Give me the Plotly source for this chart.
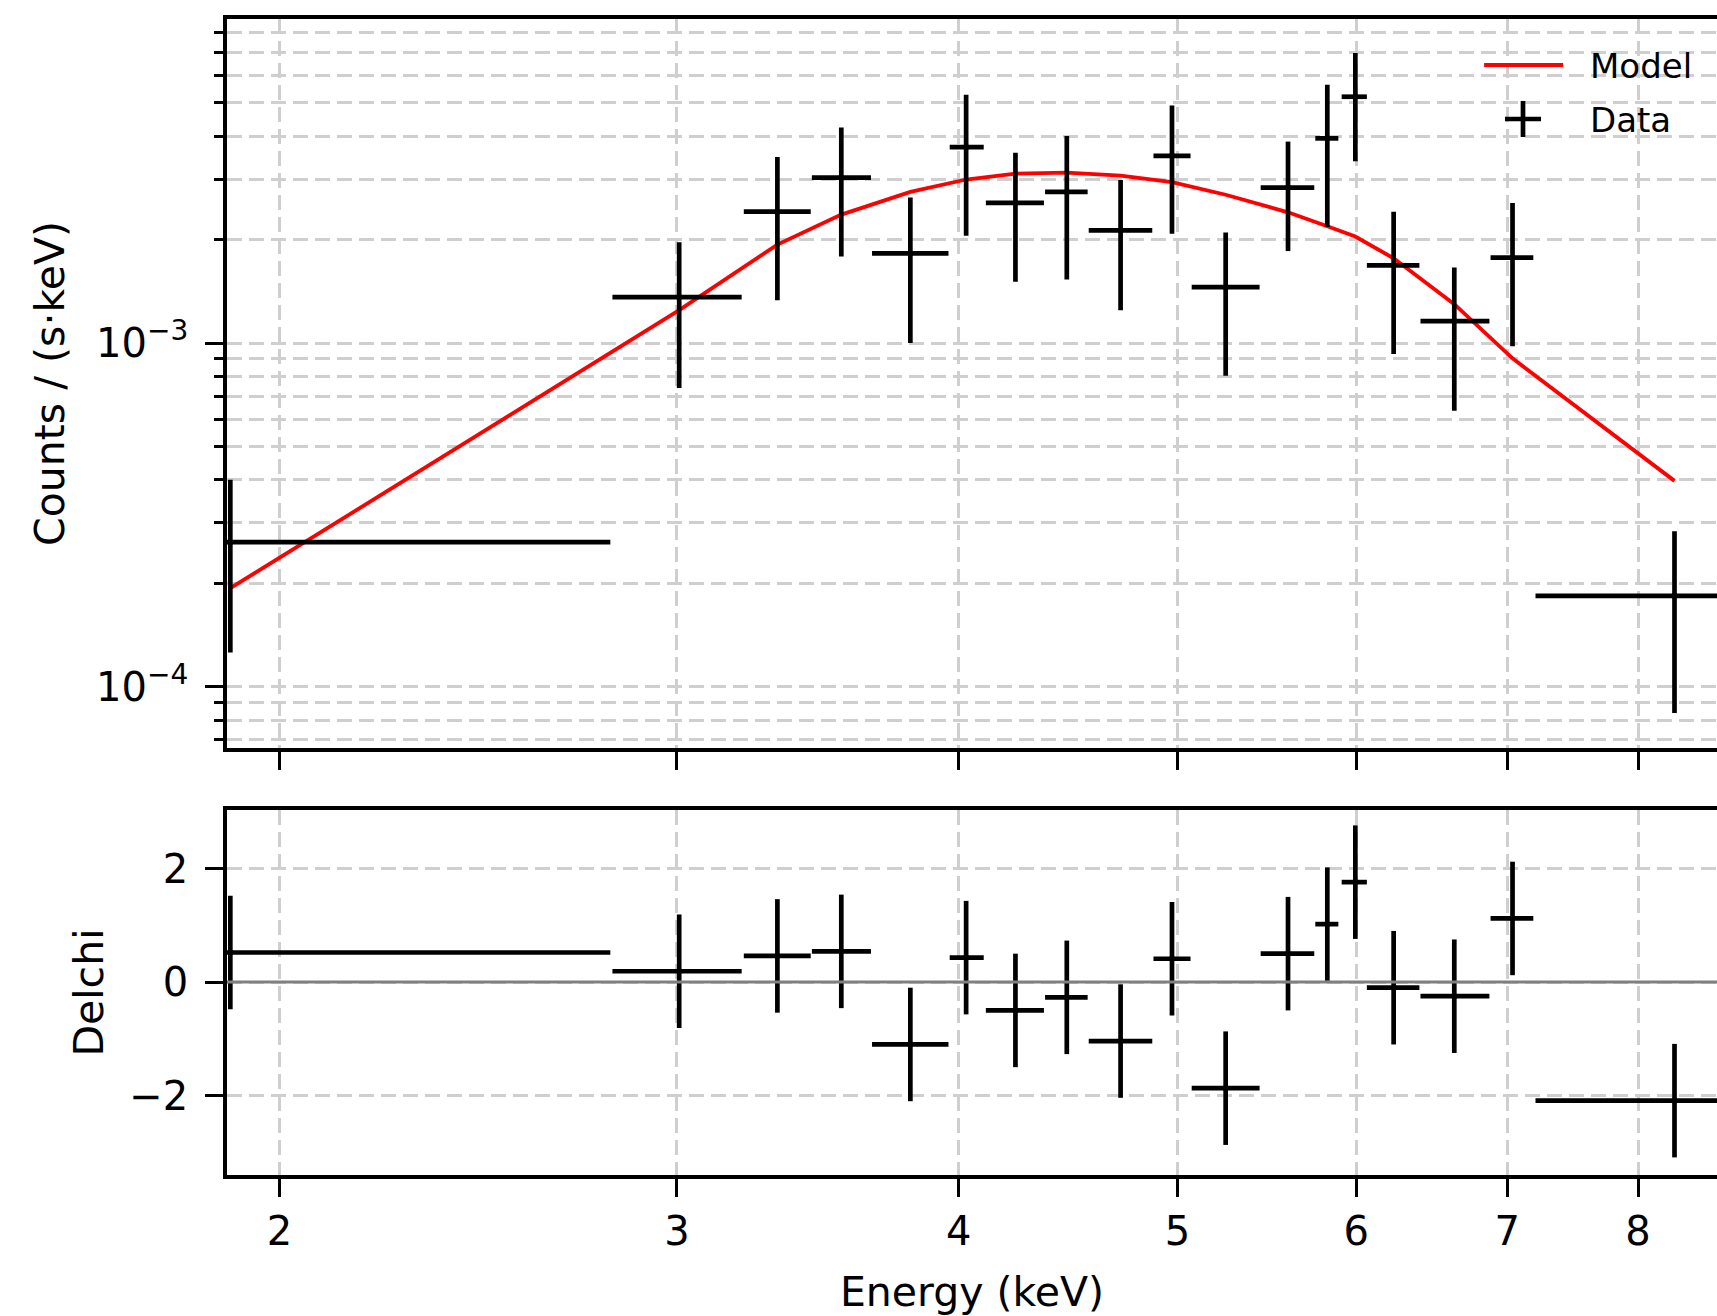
import plotly.graph_objects as go

# ---------------- data ----------------
energy = [1.902, 3.007, 3.324, 3.548, 3.807, 4.030, 4.238, 4.466, 4.718, 4.972,
          5.252, 5.597, 5.826, 5.995, 6.234, 6.632, 7.038, 8.303]
energy_lo = [1.001, 2.809, 3.212, 3.443, 3.661, 3.963, 4.112, 4.368, 4.567, 4.879,
             5.073, 5.443, 5.755, 5.912, 6.066, 6.407, 6.882, 7.205]
energy_hi = [2.803, 3.205, 3.439, 3.657, 3.958, 4.103, 4.363, 4.562, 4.873, 5.067,
             5.437, 5.749, 5.892, 6.066, 6.400, 6.874, 7.189, 9.400]

counts = [2.633e-4, 1.360e-3, 2.411e-3, 3.027e-3, 1.824e-3, 3.716e-3, 2.556e-3, 2.751e-3,
          2.128e-3, 3.504e-3, 1.454e-3, 2.833e-3, 3.939e-3, 5.206e-3, 1.683e-3, 1.158e-3,
          1.772e-3, 1.838e-4]
counts_hi = [3.998e-4, 1.963e-3, 3.478e-3, 4.240e-3, 2.652e-3, 5.280e-3, 3.580e-3, 4.000e-3,
             2.980e-3, 4.910e-3, 2.097e-3, 3.855e-3, 5.640e-3, 6.980e-3, 2.410e-3, 1.658e-3,
             2.556e-3, 2.833e-4]
counts_lo = [1.257e-4, 7.400e-4, 1.331e-3, 1.785e-3, 1.000e-3, 2.052e-3, 1.508e-3, 1.530e-3,
             1.246e-3, 2.080e-3, 8.030e-4, 1.851e-3, 2.176e-3, 3.378e-3, 9.290e-4, 6.350e-4,
             9.780e-4, 8.390e-5]

model = [1.934e-4, 1.246e-3, 1.934e-3, 2.364e-3, 2.751e-3, 2.990e-3, 3.110e-3, 3.130e-3,
         3.070e-3, 2.940e-3, 2.700e-3, 2.400e-3, 2.186e-3, 2.040e-3, 1.764e-3, 1.297e-3,
         9.020e-4, 3.970e-4]

delchi = [0.52, 0.19, 0.46, 0.54, -1.10, 0.43, -0.50, -0.27, -1.04, 0.41,
          -1.87, 0.50, 1.02, 1.76, -0.10, -0.25, 1.12, -2.09]
delchi_err = [1.0, 1.0, 1.0, 1.0, 1.0, 1.0, 1.0, 1.0, 1.0, 1.0,
              1.0, 1.0, 1.0, 1.0, 1.0, 1.0, 1.0, 1.0]

x_ticks = [2, 3, 4, 5, 6, 7, 8]
x_ticktext = ["2", "3", "4", "5", "6", "7", "8"]
y_ticks = [1e-4, 1e-3]
y_ticktext = ["10<sup>\u22124</sup>", "10<sup>\u22123</sup>"]
y_minor = [7e-5, 8e-5, 9e-5, 2e-4, 3e-4, 4e-4, 5e-4, 6e-4, 7e-4, 8e-4, 9e-4,
           2e-3, 3e-3, 4e-3, 5e-3, 6e-3, 7e-3, 8e-3]
d_ticks = [-2, 0, 2]
d_ticktext = ["\u22122", "0", "2"]
legend_labels = ["Model", "Data"]

# ---------------- derived ----------------
ex_plus = [h - c for h, c in zip(energy_hi, energy)]
ex_minus = [c - l for c, l in zip(energy, energy_lo)]
ey_plus = [h - c for h, c in zip(counts_hi, counts)]
ey_minus = [c - l for c, l in zip(counts, counts_lo)]

FONT = "DejaVu Sans"
GRID = "#cfcfcf"
DASH = "15px,7px"
LW = 4.7

fig = go.Figure()

fig.add_trace(go.Scatter(
    x=energy, y=model, mode="lines", name=legend_labels[0], showlegend=False,
    line=dict(color="#ff0000", width=3.8),
    xaxis="x", yaxis="y"))

fig.add_trace(go.Scatter(
    x=energy, y=counts, mode="markers", name=legend_labels[1], showlegend=False,
    marker=dict(size=0, color="black"),
    error_x=dict(type="data", symmetric=False, array=ex_plus, arrayminus=ex_minus,
                 color="black", thickness=LW, width=0),
    error_y=dict(type="data", symmetric=False, array=ey_plus, arrayminus=ey_minus,
                 color="black", thickness=LW, width=0),
    xaxis="x", yaxis="y"))

fig.add_trace(go.Scatter(
    x=energy, y=delchi, mode="markers", showlegend=False,
    marker=dict(size=0, color="black"),
    error_x=dict(type="data", symmetric=False, array=ex_plus, arrayminus=ex_minus,
                 color="black", thickness=LW, width=0),
    error_y=dict(type="data", array=delchi_err, color="black", thickness=LW, width=0),
    xaxis="x2", yaxis="y2"))

xrange = [0.27774, 0.93807]

common_x = dict(
    type="log", range=xrange, tickmode="array", tickvals=x_ticks, ticktext=x_ticktext,
    ticks="outside", ticklen=18, tickwidth=3, tickcolor="black",
    showgrid=True, gridcolor=GRID, griddash=DASH, gridwidth=2.6,
    showline=True, linecolor="black", linewidth=3.5, mirror=True, zeroline=False,
    tickfont=dict(family=FONT, size=40, color="black"))

fig.update_layout(
    width=1717, height=1316,
    margin=dict(l=227, r=0, t=19, b=141),
    paper_bgcolor="white", plot_bgcolor="white",
    font=dict(family=FONT, color="black"),
    showlegend=False,
    xaxis=dict(common_x, domain=[0, 1], anchor="y", showticklabels=False, matches="x2"),
    xaxis2=dict(common_x, domain=[0, 1], anchor="y2",
                title=dict(text="Energy (keV)", font=dict(family=FONT, size=41), standoff=28)),
    yaxis=dict(
        type="log", domain=[0.3694, 1], anchor="x", range=[-4.1783, -2.0573],
        tickmode="array", tickvals=y_ticks, ticktext=y_ticktext,
        ticks="outside", ticklen=18, tickwidth=3, tickcolor="black", ticklabelstandoff=9,
        showgrid=True, gridcolor=GRID, griddash=DASH, gridwidth=2.6,
        minor=dict(tickmode="array", tickvals=y_minor, ticks="outside", ticklen=9,
                   tickwidth=2.5, tickcolor="black", showgrid=True, gridcolor=GRID,
                   griddash=DASH, gridwidth=2.6),
        showline=True, linecolor="black", linewidth=3.5, mirror=False, zeroline=False,
        tickfont=dict(family=FONT, size=40, color="black"),
        title=dict(text="Counts / (s\u00b7keV)", font=dict(family=FONT, size=41), standoff=20)),
    yaxis2=dict(
        domain=[0, 0.3157], anchor="x2", range=[-3.40, 3.03],
        tickmode="array", tickvals=d_ticks, ticktext=d_ticktext,
        ticks="outside", ticklen=18, tickwidth=3, tickcolor="black", ticklabelstandoff=9,
        showgrid=True, gridcolor=GRID, griddash=DASH, gridwidth=2.6,
        showline=True, linecolor="black", linewidth=3.5, mirror=False, zeroline=False,
        tickfont=dict(family=FONT, size=40, color="black"),
        title=dict(text="Delchi", font=dict(family=FONT, size=41), standoff=14)),
)

# zero reference line in the residual panel
fig.add_shape(type="line", xref="x2 domain", yref="y2", x0=0, x1=1, y0=0, y1=0,
              line=dict(color="#808080", width=3), layer="above")

# legend (drawn in paper space, matplotlib-like, no frame)
fig.add_shape(type="line", xref="paper", yref="paper", x0=0.8437, x1=0.8967,
              y0=0.9602, y1=0.9602, line=dict(color="#ff0000", width=3.8))
fig.add_shape(type="line", xref="paper", yref="paper", x0=0.8577, x1=0.8819,
              y0=0.9135, y1=0.9135, line=dict(color="black", width=4.7))
fig.add_shape(type="line", xref="paper", yref="paper", x0=0.8698, x1=0.8698,
              y0=0.8979, y1=0.9291, line=dict(color="black", width=4.7))
fig.add_annotation(text=legend_labels[0], xref="paper", yref="paper", x=0.9133, y=0.9590,
                   xanchor="left", yanchor="middle", showarrow=False,
                   font=dict(family=FONT, size=34, color="black"))
fig.add_annotation(text=legend_labels[1], xref="paper", yref="paper", x=0.9133, y=0.9125,
                   xanchor="left", yanchor="middle", showarrow=False,
                   font=dict(family=FONT, size=34, color="black"))

fig.write_html("out.html", config={"displayModeBar": False},
               post_script="document.body.style.margin='0';document.body.style.overflow='hidden';")
